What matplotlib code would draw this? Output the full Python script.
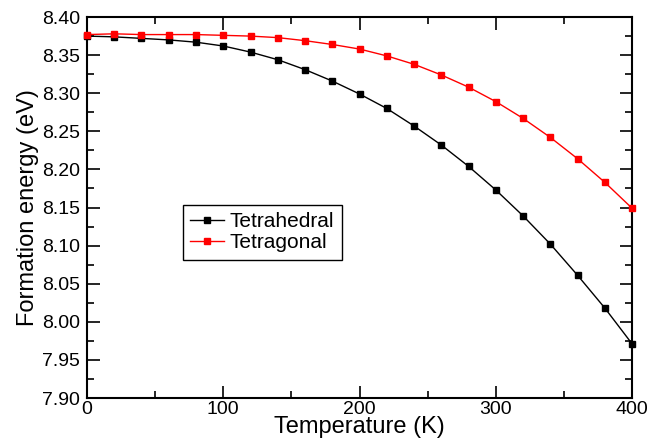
import matplotlib.pyplot as plt
import numpy as np

plt.rcParams['font.family'] = ['Liberation Sans', 'DejaVu Sans']

temperature = [0, 20, 40, 60, 80, 100, 120, 140, 160, 180, 200,
               220, 240, 260, 280, 300, 320, 340, 360, 380, 400]
tetrahedral = [8.375, 8.374, 8.372, 8.370, 8.367, 8.362, 8.354, 8.344, 8.331, 8.316, 8.299,
               8.280, 8.257, 8.232, 8.204, 8.173, 8.139, 8.102, 8.061, 8.018, 7.971]
tetragonal = [8.377, 8.378, 8.377, 8.377, 8.377, 8.376, 8.375, 8.373, 8.369, 8.364, 8.358,
              8.349, 8.338, 8.324, 8.308, 8.289, 8.267, 8.242, 8.214, 8.183, 8.149]

fig = plt.figure(figsize=(6.64, 4.44), dpi=100)
ax = fig.add_axes([0.131, 0.1036, 0.821, 0.858])

ax.plot(temperature, tetrahedral, color='black', marker='s', ms=5, lw=1, label='Tetrahedral', clip_on=False, zorder=3)
ax.plot(temperature, tetragonal, color='red', marker='s', ms=5, lw=1, label='Tetragonal', clip_on=False, zorder=3)

ax.set_xlim(0, 400)
ax.set_ylim(7.90, 8.40)
ax.set_xticks(np.arange(0, 401, 100))
ax.set_xticks(np.arange(0, 401, 50), minor=True)
ax.set_yticks(np.arange(7.90, 8.401, 0.05))
ax.set_yticks(np.arange(7.90, 8.401, 0.025), minor=True)
ax.set_yticklabels(['%.2f' % v for v in np.arange(7.90, 8.401, 0.05)])
ax.tick_params(which='both', direction='in', top=True, right=True, labelsize=14, width=1.2)
ax.tick_params(which='major', length=9)
ax.tick_params(which='minor', length=5)
ax.tick_params(axis='x', which='major', pad=2)
ax.tick_params(axis='y', which='major', pad=5)
for s in ax.spines.values():
    s.set_linewidth(1.5)

ax.set_xlabel('Temperature (K)', fontsize=17, labelpad=-1)
ax.set_ylabel('Formation energy (eV)', fontsize=17, labelpad=2)

leg = ax.legend(loc='upper left', bbox_to_anchor=(0.176, 0.507), borderaxespad=0,
                fontsize=15, fancybox=False, edgecolor='black', framealpha=1,
                handlelength=1.6, handletextpad=0.3, borderpad=0.35, labelspacing=0.1)
leg.get_frame().set_linewidth(1.0)

plt.savefig('out.png', dpi=100)
